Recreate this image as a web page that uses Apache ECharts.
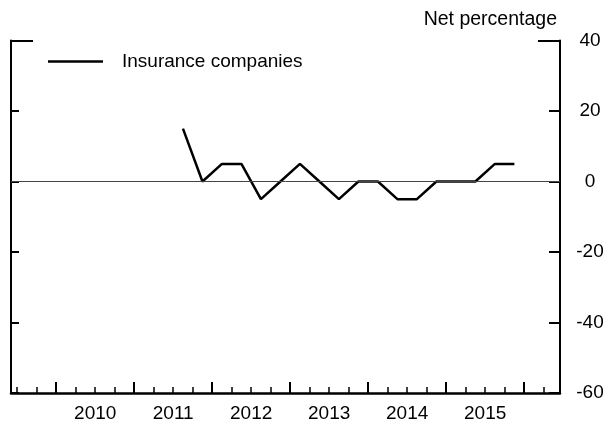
<!DOCTYPE html>
<html>
<head>
<meta charset="utf-8">
<script src="https://cdn.jsdelivr.net/npm/echarts@6/dist/echarts.min.js"></script>
<style>
  html, body { margin: 0; padding: 0; background: #fff; }
  #main { width: 603px; height: 428px; }
</style>
</head>
<body>
<div id="main"></div>
<script>
// quarterly survey, net percentage
var quarters = ['2011Q3', '2011Q4', '2012Q1', '2012Q2', '2012Q3', '2012Q4',
  '2013Q1', '2013Q2', '2013Q3', '2013Q4', '2014Q1', '2014Q2', '2014Q3', '2014Q4',
  '2015Q1', '2015Q2', '2015Q3', '2015Q4'];
var insurance = [15, 0, 5, 5, -5, 0, 5, 0, -5, 0, 0, -5, -5, 0, 0, 0, 5, 5];
var years = [2010, 2011, 2012, 2013, 2014, 2015, 2016];
var yTicks = [-60, -40, -20, 0, 20, 40];

var FONT = 'Liberation Sans, Arial, sans-serif';

// quarter string -> middle of the quarter in decimal years
function qPos(q) {
  var y = parseInt(q.slice(0, 4));
  var n = parseInt(q.slice(5));
  return y + (n - 0.5) / 4;
}
var seriesData = quarters.map(function (q, i) { return [qPos(q), insurance[i]]; });

var minorTicks = [];
for (var y = years[0] - 1; y <= years[years.length - 1]; y++) {
  [0.25, 0.5, 0.75].forEach(function (f) { minorTicks.push(y + f); });
}
var labelPos = years.slice(0, -1).map(function (y) { return y + 0.5; });

var chart = echarts.init(document.getElementById('main'));
var xMin = 2009.42, xMax = 2016.46;

var option = {
  animation: false,
  textStyle: { fontFamily: FONT },
  grid: { left: 11, right: 43, top: 40.5, bottom: 35, containLabel: false, outerBoundsMode: 'none' },
  legend: {
    left: 43,
    top: 47,
    itemWidth: 55,
    itemHeight: 2.5,
    textStyle: { fontSize: 19, color: '#000', fontFamily: FONT, padding: [0, 0, 0, 14] },
    data: [{ name: 'Insurance companies', icon: 'rect' }]
  },
  xAxis: [{
    type: 'value',
    min: xMin,
    max: xMax,
    axisLine: { onZero: false, lineStyle: { color: '#000', width: 2.5 } },
    axisTick: { inside: true, length: 11, customValues: years, lineStyle: { color: '#000', width: 2 } },
    axisLabel: {
      customValues: labelPos,
      formatter: function (v) { return String(Math.floor(v)); },
      color: '#000', fontSize: 19, fontFamily: FONT, margin: 11
    },
    splitLine: { show: false }
  }, {
    type: 'value',
    min: xMin,
    max: xMax,
    position: 'bottom',
    axisLine: { show: false, onZero: false },
    axisTick: { inside: true, length: 6, customValues: minorTicks, lineStyle: { color: '#000', width: 1.5 } },
    axisLabel: { show: false },
    splitLine: { show: false }
  }],
  yAxis: [{
    type: 'value',
    position: 'right',
    min: -60, max: 40, interval: 20,
    name: 'Net percentage',
    nameLocation: 'end',
    nameGap: 21,
    nameTextStyle: { color: '#000', fontSize: 19.5, fontFamily: FONT, align: 'right', verticalAlign: 'middle', padding: [0, 3, 0, 0] },
    axisLine: { show: true, lineStyle: { color: '#000', width: 2 } },
    axisTick: { show: true, inside: true, length: 11, lineStyle: { color: '#000', width: 2 } },
    axisLabel: { color: '#000', fontSize: 19, fontFamily: FONT, margin: 30, align: 'center' },
    splitLine: { show: false }
  }, {
    type: 'value',
    position: 'left',
    min: -60, max: 40, interval: 20,
    axisLine: { show: true, lineStyle: { color: '#000', width: 2 } },
    axisTick: { show: true, inside: true, length: 8, lineStyle: { color: '#000', width: 2 } },
    axisLabel: { show: false },
    splitLine: { show: false }
  }, {
    type: 'value',
    position: 'right',
    min: -60, max: 40,
    axisLine: { show: false },
    axisTick: { show: true, inside: true, length: 22, customValues: [yTicks[yTicks.length - 1]], lineStyle: { color: '#000', width: 2 } },
    axisLabel: { show: false },
    splitLine: { show: false }
  }, {
    type: 'value',
    position: 'left',
    min: -60, max: 40,
    axisLine: { show: false },
    axisTick: { show: true, inside: true, length: 22, customValues: [yTicks[yTicks.length - 1]], lineStyle: { color: '#000', width: 2 } },
    axisLabel: { show: false },
    splitLine: { show: false }
  }],
  series: [{
    name: 'Insurance companies',
    type: 'line',
    xAxisIndex: 0,
    yAxisIndex: 0,
    data: seriesData,
    symbol: 'none',
    lineStyle: { color: '#000', width: 2.5 },
    itemStyle: { color: '#000' },
    markLine: {
      silent: true,
      symbol: 'none',
      label: { show: false },
      lineStyle: { color: '#444', width: 1, type: 'solid' },
      data: [{ yAxis: 0 }]
    }
  }]
};

chart.setOption(option);
</script>
</body>
</html>
